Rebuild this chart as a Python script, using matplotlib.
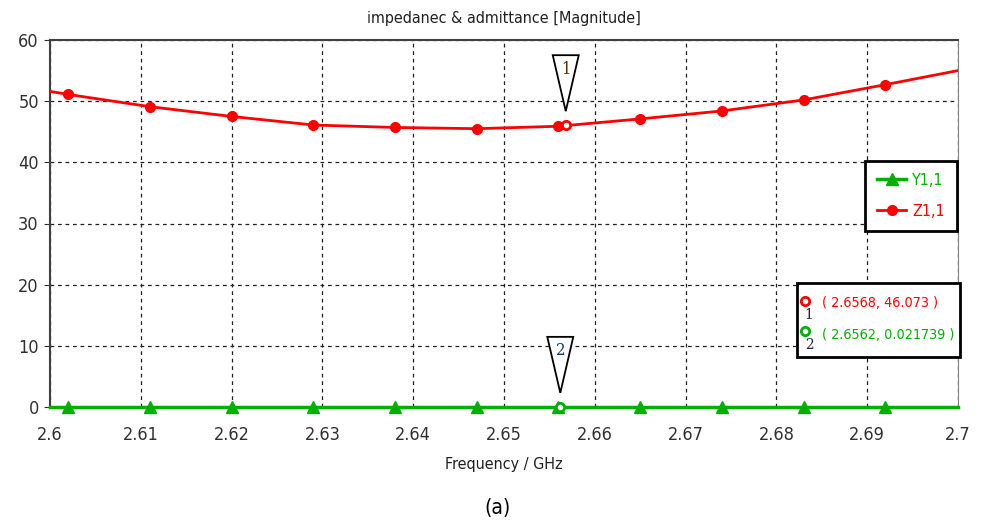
import matplotlib
matplotlib.use("Agg")
import matplotlib.pyplot as plt
from matplotlib.patches import Polygon, Rectangle
from matplotlib.lines import Line2D

plt.rcParams['font.family'] = ['DejaVu Sans']
plt.rcParams['font.stretch'] = 'condensed'

freq = [2.6, 2.602, 2.611, 2.620, 2.629, 2.638, 2.647, 2.656, 2.665, 2.674, 2.683, 2.692, 2.7]
z11 = [51.6, 51.1, 49.1, 47.5, 46.1, 45.7, 45.5, 45.9, 47.1, 48.4, 50.2, 52.7, 55.0]
y11 = [0.02, 0.02, 0.02, 0.02, 0.02, 0.02, 0.02, 0.02, 0.02, 0.02, 0.02, 0.02, 0.02]
marker1 = (2.6568, 46.073)
marker2 = (2.6562, 0.021739)
xticks = [2.6, 2.61, 2.62, 2.63, 2.64, 2.65, 2.66, 2.67, 2.68, 2.69, 2.7]
xticklabels = ['2.6', '2.61', '2.62', '2.63', '2.64', '2.65', '2.66', '2.67', '2.68', '2.69', '2.7']
yticks = [0, 10, 20, 30, 40, 50, 60]

W, H = 983, 523
fig = plt.figure(figsize=(W / 100, H / 100), dpi=100)
ax = fig.add_axes([50 / W, 1 - 407 / H, 908 / W, 367 / H])
ax.set_xlim(2.6, 2.7)
ax.set_ylim(0, 60)

red = '#ff0000'
green = '#00b000'
ax.plot(freq, z11, color=red, lw=2, marker='o', ms=7, markevery=list(range(1, 12)), zorder=3,
        label='Z1,1')
ax.plot(freq, y11, color=green, lw=2.5, marker='^', ms=8, markevery=list(range(1, 12)), zorder=3,
        label='Y1,1', clip_on=False)

ax.plot(*marker1, marker='o', ms=6, mfc='white', mec=red, mew=2, zorder=5)
ax.plot(*marker2, marker='o', ms=6, mfc='white', mec=green, mew=2, zorder=5, clip_on=False)

inv = fig.transFigure.inverted()


def flag(xd, yd, label, color):
    tx, ty = ax.transData.transform((xd, yd))
    tip = (tx, ty + 14)
    top = ty + 70
    pts = [(tx - 13, top), (tx + 13, top), tip]
    p = Polygon([inv.transform(pt) for pt in pts], closed=True, transform=fig.transFigure,
                facecolor='white', edgecolor='black', lw=1.3, zorder=6)
    fig.add_artist(p)
    fig.text(*inv.transform((tx, top - 14)), label, ha='center', va='center', fontsize=12,
             color=color, family=['DejaVu Serif'], zorder=7)


fig.canvas.draw()
flag(marker1[0], marker1[1], '1', '#5a2d00')
flag(marker2[0], marker2[1], '2', '#003a80')

ax.set_xticks(xticks)
ax.set_xticklabels(xticklabels)
ax.set_yticks(yticks)
ax.grid(True, color='#202020', ls=(0, (3, 3)), lw=0.9)
ax.tick_params(axis='x', length=0, pad=14, labelsize=13, colors='#303030')
ax.tick_params(axis='y', length=4, pad=4, labelsize=13, colors='#303030')
for s in ['top', 'left']:
    ax.spines[s].set_color('#404040')
    ax.spines[s].set_linewidth(1.5)
ax.spines['right'].set_color('#808080')
ax.spines['bottom'].set_visible(False)

ax.set_title('impedanec & admittance [Magnitude]', fontsize=11.5, color='#202020', pad=12)
ax.set_xlabel('Frequency / GHz', fontsize=11.5, color='#202020', labelpad=9)
fig.text(497 / W, 1 - 508 / H, '(a)', ha='center', va='center', fontsize=15, color='black')

h, l = ax.get_legend_handles_labels()
leg = ax.legend(h[::-1], l[::-1], loc='upper right', bbox_to_anchor=(957 / W, 1 - 161 / H),
                bbox_transform=fig.transFigure, frameon=True, fancybox=False, fontsize=11.5,
                handlelength=1.8, handletextpad=0.4, borderpad=0.75, labelspacing=1.0,
                borderaxespad=0)
leg.get_frame().set_edgecolor('black')
leg.get_frame().set_linewidth(2)
leg.get_frame().set_alpha(1)
leg.get_texts()[0].set_color(green)
leg.get_texts()[1].set_color(red)

box = Rectangle((797 / W, 1 - 357 / H), 163 / W, 74 / H, transform=fig.transFigure,
                facecolor='white', edgecolor='black', lw=2, zorder=8)
fig.add_artist(box)
for (yy, col, num) in [(301, red, '1'), (331, green, '2')]:
    fig.add_artist(Line2D([805 / W], [1 - yy / H], marker='o', ms=6, mfc='white', mec=col, mew=2,
                          transform=fig.transFigure, zorder=9))
    fig.text(809 / W, 1 - (yy + 14) / H, num, color='#202040', fontsize=11, ha='center',
             va='center', zorder=9, family=['DejaVu Serif'])
fig.text(822 / W, 1 - 303 / H, '( %.4f, %.3f )' % marker1, color=red, fontsize=10.3, ha='left',
         va='center', zorder=9)
fig.text(822 / W, 1 - 335 / H, '( %.4f, %.6f )' % marker2, color=green, fontsize=10.3, ha='left',
         va='center', zorder=9)

fig.savefig('out.png', dpi=100)
